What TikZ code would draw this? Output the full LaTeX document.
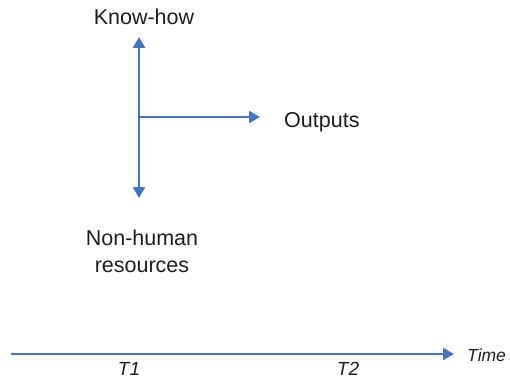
\documentclass[tikz,border=0pt]{standalone}
\usepackage{fontspec}
\setmainfont{Liberation Sans}
\usetikzlibrary{arrows.meta}
\definecolor{axisblue}{RGB}{68,114,196}
\definecolor{labelgray}{RGB}{30,30,30}
\begin{document}
\begin{tikzpicture}[x=1pt,y=-1pt,
  axis/.style={draw=axisblue,line width=2.5pt,-{Triangle[length=11pt,width=12pt]}},
  label/.style={text=labelgray,font=\fontsize{21.5}{27}\selectfont,inner sep=0pt},
  tick/.style={text=labelgray,font=\fontsize{19}{22}\selectfont\itshape,inner sep=0pt}]
\useasboundingbox (0,0) rectangle (510,387);
% origin of the three arrows
\coordinate (o) at (139,117);
\coordinate (up) at (139,37);
\coordinate (down) at (139,198);
\coordinate (right) at (260,117);
\draw[axis] (o) -- (up);
\draw[axis] (o) -- (down);
\draw[axis] (o) -- (right);
\node[label,anchor=base] (know) at (144,25) {Know-how};
\node[label,anchor=base west] (out) at (284,128) {Outputs};
\node[label,anchor=base] (res1) at (142,245) {Non-human};
\node[label,anchor=base] (res2) at (142,272) {resources};
% time axis
\coordinate (t0) at (11,354);
\coordinate (t1) at (454,354);
\draw[axis] (t0) -- (t1);
\node[tick,anchor=base west,font=\fontsize{17.5}{22}\selectfont\itshape] (time) at (467,361) {Time};
\node[tick,anchor=base] (T1) at (129,375) {T1};
\node[tick,anchor=base] (T2) at (348,375) {T2};
\end{tikzpicture}
\end{document}
